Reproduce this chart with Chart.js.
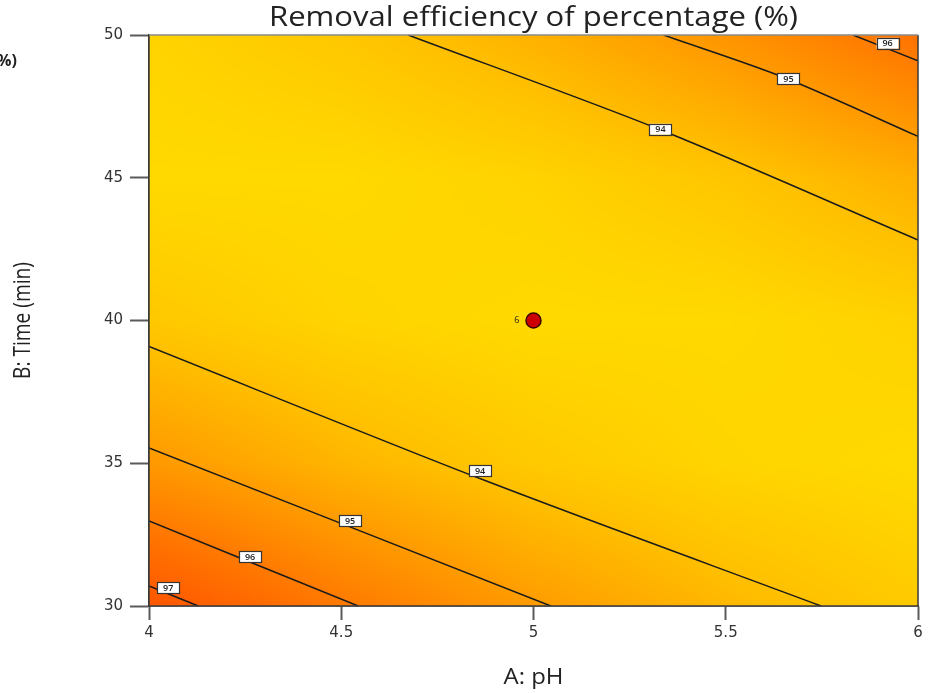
<!DOCTYPE html>
<html>
<head>
<meta charset="utf-8">
<script src="https://cdn.jsdelivr.net/npm/chart.js@4.4.1/dist/chart.umd.min.js"></script>
<style>
html,body{margin:0;padding:0;background:#fff;}
#wrap{position:relative;width:939px;height:693px;}
</style>
</head>
<body>
<div id="wrap"><canvas id="c" width="939" height="693"></canvas></div>
<script>
/* ===== data ===== */
const xTicks=[4,4.5,5,5.5,6];
const xTickLabels=['4','4.5','5','5.5','6'];
const yTicks=[30,35,40,45,50];
const yTickLabels=['30','35','40','45','50'];

// response surface sampled on a grid (rows = time 30..50, cols = pH 4..6)
const gridX=[4,4.5,5,5.5,6];
const gridY=[30,35,40,45,50];
const gridZ=[
  [97.31,96.09,95.08,94.29,93.71],
  [95.17,94.36,93.76,93.38,93.21],
  [93.81,93.41,93.22,93.24,93.48],
  [93.23,93.23,93.45,93.88,94.53],
  [93.42,93.83,94.45,95.29,96.35]
];

// contour lines
const contourLevel=['97','96','95','94','94','95','96'];
const contourX=[[4,4.128],[4,4.544],[4,5.045],[4,4.869,5.748],[4.674,5.330,6],[5.338,5.650,6],[5.831,6]];
const contourY=[[30.70,30],[32.98,30],[35.54,30],[39.09,34.42,30],[50,46.68,42.82],[50,48.52,46.45],[50,49.10]];
const labelX=[4.050,4.263,4.523,4.861,5.330,5.663,5.921];
const labelY=[30.64,31.72,32.98,34.74,46.70,48.47,49.71];

// design point (center runs)
const designX=[5];
const designY=[40];
const designCount=['6'];

/* ===== colour scale ===== */
const colorVals=[93.2,94,95,96,97,97.6];
const colorRGB=[[255,218,0],[255,194,0],[255,158,0],[255,124,0],[255,94,0],[255,78,0]];
function colorFor(v){
  if(v<=colorVals[0]) return colorRGB[0];
  for(let i=1;i<colorVals.length;i++){
    if(v<=colorVals[i]){
      const t=(v-colorVals[i-1])/(colorVals[i]-colorVals[i-1]);
      const a=colorRGB[i-1], b=colorRGB[i];
      return [a[0]+(b[0]-a[0])*t, a[1]+(b[1]-a[1])*t, a[2]+(b[2]-a[2])*t];
    }
  }
  return colorRGB[colorRGB.length-1];
}
function findCell(arr,v){
  let i=0;
  while(i<arr.length-2 && v>arr[i+1]) i++;
  return i;
}
function surfaceAt(xv,yv){
  const i=findCell(gridX,xv), j=findCell(gridY,yv);
  const tx=Math.min(1,Math.max(0,(xv-gridX[i])/(gridX[i+1]-gridX[i])));
  const ty=Math.min(1,Math.max(0,(yv-gridY[j])/(gridY[j+1]-gridY[j])));
  const z00=gridZ[j][i], z10=gridZ[j][i+1], z01=gridZ[j+1][i], z11=gridZ[j+1][i+1];
  return (z00*(1-tx)+z10*tx)*(1-ty)+(z01*(1-tx)+z11*tx)*ty;
}

/* ===== plugins ===== */
const surfacePlugin={
  id:'surface',
  beforeDatasetsDraw(chart){
    const {ctx,chartArea:a,scales:{x,y}}=chart;
    const L=Math.round(a.left), T=Math.round(a.top);
    const w=Math.round(a.right)-L, h=Math.round(a.bottom)-T;
    const img=ctx.createImageData(w,h);
    for(let j=0;j<h;j++){
      const yv=y.getValueForPixel(T+j+0.5);
      for(let i=0;i<w;i++){
        const xv=x.getValueForPixel(L+i+0.5);
        const c=colorFor(surfaceAt(xv,yv));
        const k=(j*w+i)*4;
        img.data[k]=c[0]; img.data[k+1]=c[1]; img.data[k+2]=c[2]; img.data[k+3]=255;
      }
    }
    ctx.putImageData(img,L,T);
  }
};

function fitText(ctx,text,cx,cy,font,width,angle){
  ctx.save();
  ctx.font=font;
  const m=ctx.measureText(text).width;
  ctx.translate(cx,cy);
  if(angle) ctx.rotate(angle);
  ctx.scale(width/m,1);
  ctx.textAlign='center'; ctx.textBaseline='middle';
  ctx.fillText(text,0,0);
  ctx.restore();
}

const annotPlugin={
  id:'annot',
  afterDatasetsDraw(chart){
    const {ctx,chartArea:a,scales:{x,y}}=chart;
    // frame
    ctx.save();
    ctx.lineWidth=1.5;
    ctx.strokeStyle='#3a3a3a';
    ctx.beginPath();
    ctx.moveTo(a.left,a.top); ctx.lineTo(a.left,a.bottom); ctx.lineTo(a.right,a.bottom); ctx.lineTo(a.right,a.top);
    ctx.stroke();
    ctx.strokeStyle='#8a8a8a';
    ctx.beginPath(); ctx.moveTo(a.left,a.top); ctx.lineTo(a.right,a.top); ctx.stroke();

    // contour labels
    ctx.font='600 9px "Open Sans"';
    ctx.textAlign='center'; ctx.textBaseline='middle';
    labelX.forEach((lx,i)=>{
      const px=x.getPixelForValue(lx), py=y.getPixelForValue(labelY[i]);
      const bw=22, bh=11;
      ctx.fillStyle='#fff';
      ctx.fillRect(px-bw/2,py-bh/2,bw,bh);
      ctx.strokeStyle='#333'; ctx.lineWidth=1.2;
      ctx.strokeRect(Math.round(px-bw/2)+0.5,Math.round(py-bh/2)+0.5,bw,bh);
      ctx.fillStyle='#222';
      ctx.fillText(contourLevel[i],px,py+0.5);
    });

    // design point count
    ctx.font='9px "Open Sans"';
    ctx.fillStyle='#222';
    ctx.textAlign='right';
    designX.forEach((dx,i)=>{
      ctx.fillText(designCount[i],x.getPixelForValue(dx)-14,y.getPixelForValue(designY[i]));
    });
    ctx.restore();

    // titles
    ctx.save();
    ctx.fillStyle='#222';
    fitText(ctx,'Removal efficiency of percentage (%)',(a.left+a.right)/2,18,'28px "Open Sans"',529);
    fitText(ctx,'A: pH',(a.left+a.right)/2,678,'21px "Open Sans"',60);
    fitText(ctx,'B: Time (min)',23,(a.top+a.bottom)/2,'24px "Open Sans"',117,-Math.PI/2);
    ctx.font='bold 16px "Open Sans"';
    ctx.textAlign='left'; ctx.textBaseline='middle';
    ctx.fillText('%)',-3,61);
    ctx.restore();
  }
};

/* ===== datasets ===== */
const datasets=contourX.map((xs,i)=>({
  type:'line',
  label:'contour '+contourLevel[i],
  data:xs.map((v,k)=>({x:v,y:contourY[i][k]})),
  borderColor:'#1a1a1a',
  borderWidth:1.5,
  pointRadius:0,
  tension:0.3,
  fill:false
}));
datasets.push({
  type:'scatter',
  label:'design points',
  data:designX.map((v,i)=>({x:v,y:designY[i]})),
  pointRadius:7.5,
  pointBackgroundColor:'#cc0000',
  pointBorderColor:'#3a0000',
  pointBorderWidth:1.5
});

const tickFont={family:'"DejaVu Sans"',size:15};

new Chart(document.getElementById('c'),{
  type:'scatter',
  data:{datasets},
  options:{
    responsive:false,
    animation:false,
    layout:{padding:{top:35,right:21,left:0,bottom:0}},
    plugins:{legend:{display:false},tooltip:{enabled:false},title:{display:false}},
    scales:{
      x:{
        type:'linear',min:4,max:6,
        afterBuildTicks(s){ s.ticks=xTicks.map(v=>({value:v})); },
        afterFit(s){ s.height=87; },
        grid:{drawOnChartArea:false,drawTicks:true,tickLength:14,tickColor:'#5a5a5a',tickWidth:2},
        border:{display:true,color:'#3a3a3a',width:1.5},
        ticks:{font:tickFont,color:'#333',padding:4,maxRotation:0,
          callback:(v,i)=>xTickLabels[i]}
      },
      y:{
        type:'linear',min:30,max:50,
        afterBuildTicks(s){ s.ticks=yTicks.map(v=>({value:v})); },
        afterFit(s){ s.width=149; },
        grid:{drawOnChartArea:false,drawTicks:true,tickLength:19,tickColor:'#5a5a5a',tickWidth:2},
        border:{display:true,color:'#3a3a3a',width:1.5},
        ticks:{font:tickFont,color:'#333',padding:7,
          callback:(v,i)=>yTickLabels[i]}
      }
    }
  },
  plugins:[surfacePlugin,annotPlugin]
});
</script>
</body>
</html>
